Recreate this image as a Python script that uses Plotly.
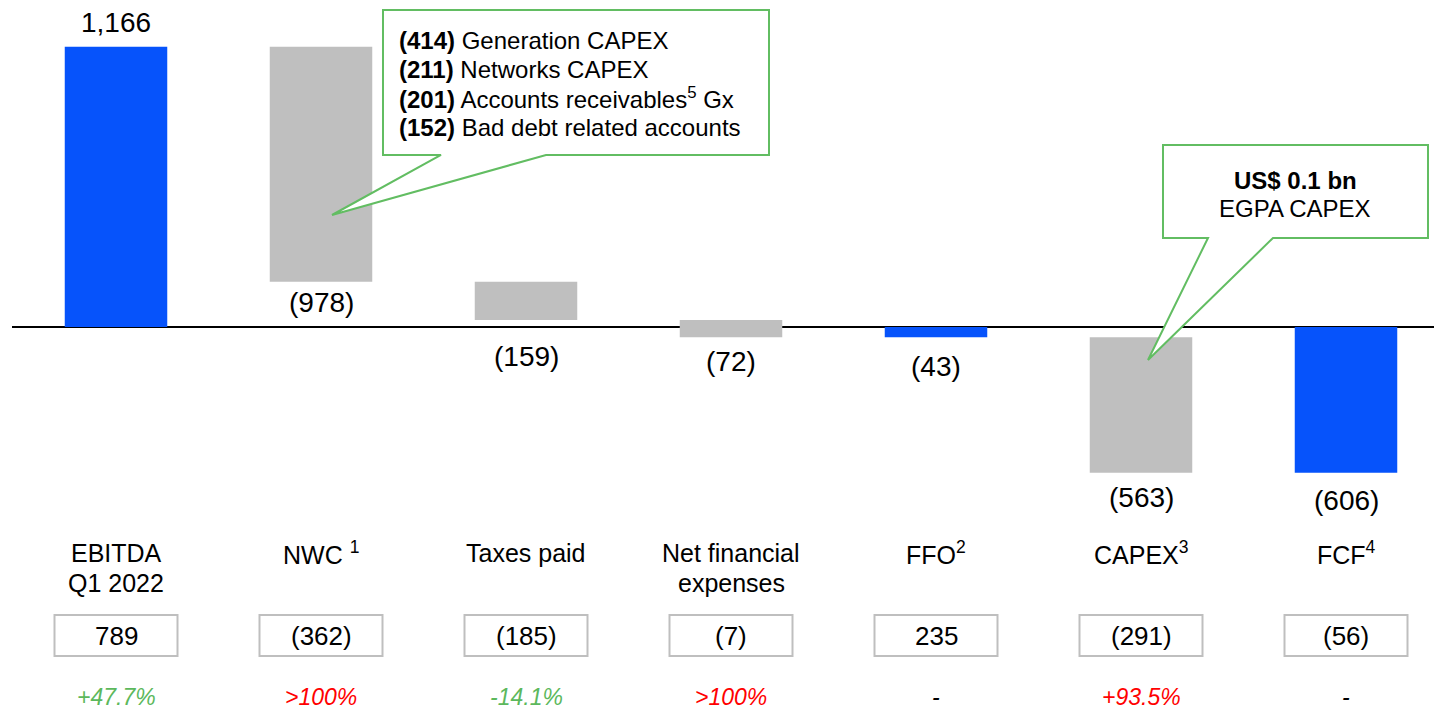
import plotly.graph_objects as go

# ---- data -------------------------------------------------------------
steps = ["EBITDA", "NWC", "Taxes paid", "Net financial expenses", "FFO", "CAPEX", "FCF"]
label_line1 = ["EBITDA", "NWC <sup>1</sup>", "Taxes paid", "Net financial",
               "FFO<sup>2</sup>", "CAPEX<sup>3</sup>", "FCF<sup>4</sup>"]
label_line2 = ["Q1 2022", "", "", "expenses", "", "", ""]
measures = ["absolute", "relative", "relative", "relative", "total", "relative", "total"]
values = [1166, -978, -159, -72, 0, -563, 0]
value_text = ["1,166", "(978)", "(159)", "(72)", "(43)", "(563)", "(606)"]
prior_year = ["789", "(362)", "(185)", "(7)", "235", "(291)", "(56)"]
yoy = ["+47.7%", ">100%", "-14.1%", ">100%", "-", "+93.5%", "-"]
yoy_color = ["#5cb85c", "#ff0000", "#5cb85c", "#ff0000", "#000000", "#ff0000", "#000000"]

nwc_detail = [("(414)", "Generation CAPEX"), ("(211)", "Networks CAPEX"),
              ("(201)", "Accounts receivables<sup>5</sup> Gx"), ("(152)", "Bad debt related accounts")]

BLUE = "#0653fb"
GREY = "#bfbfbf"
GREEN = "#62bd62"
FONT = "Liberation Sans, Arial, sans-serif"

W, H = 1434, 711
LEFT = 12


def px(x):
    return (x - LEFT) / (W - LEFT)


def py(y):
    return 1 - y / H


fig = go.Figure(go.Waterfall(
    x=steps,
    y=values,
    measure=measures,
    totals=dict(marker=dict(color=BLUE, line=dict(width=0))),
    decreasing=dict(marker=dict(color=GREY, line=dict(width=0))),
    increasing=dict(marker=dict(color=BLUE, line=dict(width=0))),
    connector=dict(visible=False),
    textinfo="none",
    hoverinfo="skip",
    width=0.5,
))

# value labels above / below the bars (pixel rows)
label_y = [22, 302, 356, 361, 366, 497, 500]
for s, t, y in zip(steps, value_text, label_y):
    fig.add_annotation(x=s, y=py(y), yref="paper", text=t, showarrow=False,
                       font=dict(size=28, color="#000"), yanchor="middle")

# category names, prior-year boxes and yoy change
for i, s in enumerate(steps):
    fig.add_annotation(x=s, y=py(553), yref="paper", text=label_line1[i], showarrow=False,
                       font=dict(size=25, color="#000"), yanchor="middle")
    if label_line2[i]:
        fig.add_annotation(x=s, y=py(583), yref="paper", text=label_line2[i], showarrow=False,
                           font=dict(size=25, color="#000"), yanchor="middle")
    fig.add_shape(type="rect", xref="x", yref="paper", x0=i - 0.3, x1=i + 0.3,
                  y0=py(615), y1=py(656), line=dict(color=GREY, width=2))
    fig.add_annotation(x=s, y=py(636), yref="paper", text=prior_year[i], showarrow=False,
                       font=dict(size=26, color="#000"), yanchor="middle")
    fig.add_annotation(x=s, y=py(697), yref="paper", text="<i>%s</i>" % yoy[i], showarrow=False,
                       font=dict(size=23, color=yoy_color[i]), yanchor="middle")


def callout(points):
    path = "M " + " L ".join("%.5f,%.5f" % (px(x), py(y)) for x, y in points) + " Z"
    fig.add_shape(type="path", path=path, xref="paper", yref="paper",
                  line=dict(color=GREEN, width=2), fillcolor="white", layer="above")


# NWC breakdown callout
callout([(383, 10), (769, 10), (769, 155), (546, 155), (332, 215), (441, 155), (383, 155)])
for i, (num, txt) in enumerate(nwc_detail):
    fig.add_annotation(x=px(397), y=py(40 + i * 29), xref="paper", yref="paper",
                       text="<b>%s</b> %s" % (num, txt), showarrow=False,
                       xanchor="left", yanchor="middle", font=dict(size=24, color="#000"))

# EGPA callout
callout([(1163, 145), (1428, 145), (1428, 238), (1273, 238), (1148, 360), (1208, 238), (1163, 238)])
fig.add_annotation(x=px(1295), y=py(180), xref="paper", yref="paper", text="<b>US$ 0.1 bn</b>",
                   showarrow=False, xanchor="center", yanchor="middle", font=dict(size=24, color="#000"))
fig.add_annotation(x=px(1295), y=py(208), xref="paper", yref="paper", text="EGPA CAPEX",
                   showarrow=False, xanchor="center", yanchor="middle", font=dict(size=24, color="#000"))

y_top = 327 / 0.2404
y_bot = -(H - 327) / 0.2404
fig.update_layout(
    width=W, height=H,
    margin=dict(l=LEFT, r=0, t=0, b=0),
    paper_bgcolor="white", plot_bgcolor="white",
    font=dict(family=FONT, color="#000"),
    showlegend=False,
    xaxis=dict(range=[-104 / 205, -104 / 205 + (W - LEFT) / 205], visible=False),
    yaxis=dict(range=[y_bot, y_top], showgrid=False, showticklabels=False, ticks="",
               zeroline=True, zerolinecolor="#000", zerolinewidth=1.5),
)

fig.write_html("out.html", config={"displayModeBar": False},
               post_script="document.body.style.margin='0';document.body.style.overflow='hidden';")
